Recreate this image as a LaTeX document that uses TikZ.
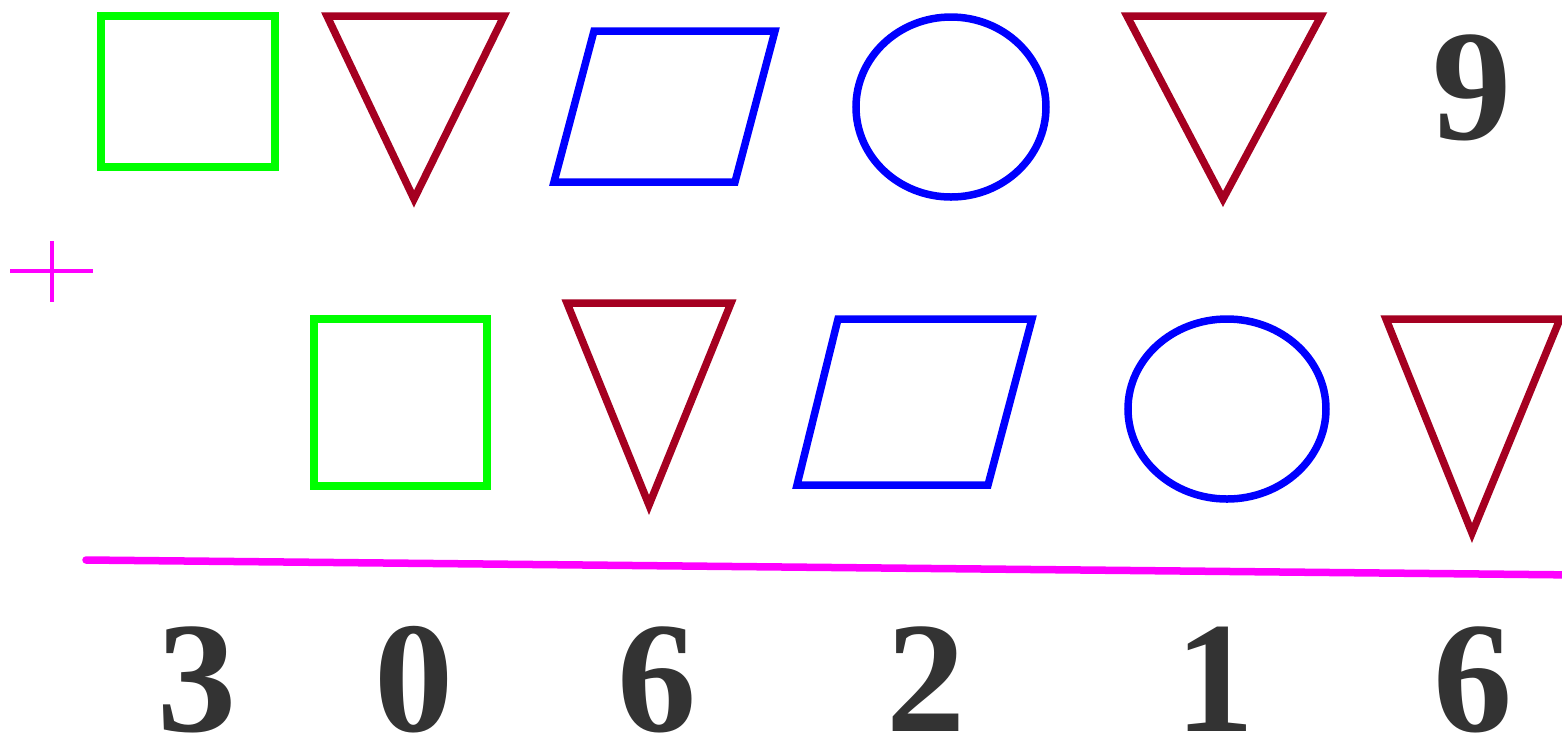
\documentclass[tikz,border=0pt]{standalone}
\usepackage{fontspec}
\setmainfont{Liberation Serif}[BoldFont={Liberation Serif Bold}]
\usepackage{tikz}
\usetikzlibrary{positioning}
\definecolor{boxgreen}{RGB}{0, 255, 0}
\definecolor{trired}{RGB}{165, 0, 33}
\definecolor{shapeblue}{RGB}{0, 0, 255}
\definecolor{sumpink}{RGB}{255, 0, 255}
\definecolor{digitgray}{RGB}{51, 51, 51}

\begin{document}
\begin{tikzpicture}[
  x=0.01cm, y=-0.01cm,
  sq/.style={draw=boxgreen, line width=0.08cm},
  tri/.style={draw=trired, line width=0.075cm},
  para/.style={draw=shapeblue, line width=0.075cm},
  oval/.style={draw=shapeblue, line width=0.075cm},
  digit/.style={anchor=base, inner sep=0pt, text=digitgray, font=\fontsize{45}{45}\selectfont\bfseries}
]
\useasboundingbox (0,0) rectangle (1562,741);

% Top row
\draw[sq] (101,16) rectangle (275,167);
\draw[tri] (327,16) -- (504,16) -- (414,199) -- cycle;
\draw[para] (594,31) -- (775,31) -- (735,182) -- (554,182) -- cycle;
\draw[oval] (951,107) ellipse [x radius=95, y radius=90];
\draw[tri] (1127,16) -- (1321,16) -- (1223,199) -- cycle;
\node[digit] (top9) at (1472,139) {9};

% Plus sign
\draw[sumpink, line width=0.04cm] (10,271) -- (93,271);
\draw[sumpink, line width=0.04cm] (52,241) -- (52,302);

% Second row
\draw[sq] (314,319) rectangle (487,486);
\draw[tri] (567,303) -- (731,303) -- (649,505) -- cycle;
\draw[para] (838,319) -- (1032,319) -- (988,485) -- (797,485) -- cycle;
\draw[oval] (1227,409) ellipse [x radius=99, y radius=90];
\draw[tri] (1386,319) -- (1560,319) -- (1472,533) -- cycle;

% Sum line
\draw[sumpink, line width=0.075cm, line cap=round] (86,560) -- (1580,575);

% Result
\node[digit] (r1) at (197,731) {3};
\node[digit] (r2) at (414,731) {0};
\node[digit] (r3) at (657,731) {6};
\node[digit] (r4) at (926,731) {2};
\node[digit] (r5) at (1215,731) {1};
\node[digit] (r6) at (1473,731) {6};

\end{tikzpicture}
\end{document}
